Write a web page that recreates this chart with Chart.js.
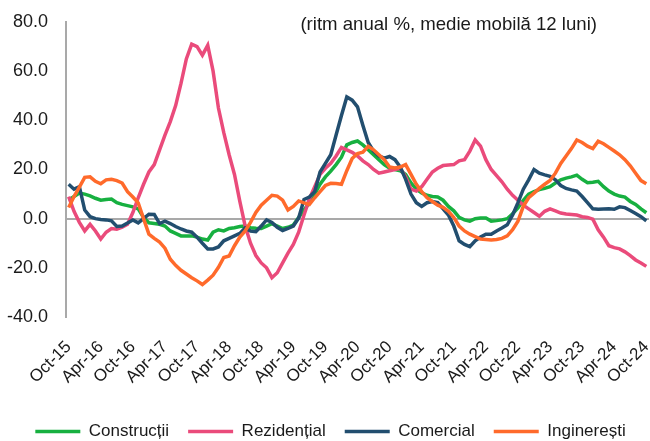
<!DOCTYPE html>
<html>
<head>
<meta charset="utf-8">
<script src="https://cdn.jsdelivr.net/npm/chart.js@4.4.1/dist/chart.umd.min.js"></script>
<style>
  html, body { margin: 0; padding: 0; background: #fff; }
  #wrap { width: 650px; height: 441px; }
</style>
</head>
<body>
<div id="wrap"><canvas id="chart"></canvas></div>
<script>
// monthly categories Oct-15 .. Oct-24
const monthAbbr = ['Jan', 'Feb', 'Mar', 'Apr', 'May', 'Jun', 'Jul', 'Aug', 'Sep', 'Oct', 'Nov', 'Dec'];
const firstMonth = 9, firstYear = 15, monthCount = 109;
const categories = [];
for (let k = 0; k < monthCount; k++) {
    const m = firstMonth + k;
    categories.push(monthAbbr[m % 12] + '-' + (firstYear + Math.floor(m / 12)));
}

const yTicks = [-40, -20, 0, 20, 40, 60, 80];
const noteText = '(ritm anual %, medie mobilă 12 luni)';

const constructii = [
    7.5, 9, 10.4, 10, 9.3, 8.3, 7.5, 7.8, 8, 6.5,
    5.8, 5.3, 4.8, 4, 0.5, -1.7, -2, -2.3, -3, -5,
    -6, -7, -7, -7, -7.5, -8.3, -8.7, -5.5, -4.5, -5,
    -4, -3.7, -3.2, -3, -3.7, -3.9, -4, -3, -2, -3,
    -4, -3.5, -2.6, 0.5, 3.5, 6.5, 10, 14, 17, 19.3,
    22, 25, 30, 31, 31.6, 30, 28, 26, 24, 22,
    20.6, 20, 19.5, 18, 14.5, 12, 10.5, 9.5, 9, 8.8,
    7.5, 5, 3.2, 0.5, -0.5, -1, 0, 0.3, 0.3, -1,
    -0.8, -0.5, 0, 2, 4.4, 7.5, 10, 11, 11.8, 12.3,
    13, 14.5, 15.8, 16.5, 17, 17.7, 16, 14.6, 14.8, 15.2,
    13, 11.2, 10, 9.2, 8.8, 7, 5.8, 4, 2.4
];
const rezidential = [
    9, 3, -1.5, -5, -2.3, -5, -8.3, -5.5, -4, -4.3,
    -3.5, -2.3, 2.5, 8.5, 14, 19, 22, 28, 34, 39.5,
    46, 55, 65, 71, 70, 66.5, 70.5, 60, 45, 35,
    26, 18, 7, -3, -10, -15, -18, -20, -24, -22,
    -18, -14, -10.5, -5.5, 1.5, 8, 13, 18, 20.5, 22.5,
    25.5, 29, 28, 27, 25.5, 23.5, 22, 20, 18.5, 19,
    19.5, 20, 20.5, 17, 12, 11.2, 13, 16, 19, 20.5,
    21.6, 21.8, 22, 23.5, 24, 27.5, 32, 29.5, 24, 20,
    17.5, 15, 12, 9.5, 7.5, 5.5, 4, 2.5, 1, 3,
    4, 3.2, 2.3, 1.9, 1.7, 1.5, 0.8, 0.5, -0.2, -4.5,
    -7.5, -11, -11.8, -12.3, -13.5, -15, -16.8, -18, -19.4
];
const comercial = [
    14, 12, 13, 3.5, 0.8, 0, -0.3, -0.5, -0.9, -3.2,
    -3, -1.8, -0.5, -1.7, 0, 1.8, 1.7, -2, -1, -2,
    -3.2, -4.2, -5, -5.5, -7.5, -10, -12.3, -12.3, -11.5, -9,
    -8, -7, -6, -3.8, -5, -5.3, -3, -0.5, -1.5, -3.5,
    -4.8, -4, -3, 0.3, 7.8, 8.8, 11, 19, 22.5, 26,
    34, 42, 49.5, 48.2, 45.5, 38, 31, 27.5, 25.5, 24.6,
    25.3, 24, 21, 16, 10, 6.5, 5, 6.5, 7, 6.5,
    4, 1.5, -3, -9, -10.5, -11.4, -9, -7.5, -6.3, -6.3,
    -5, -3.8, -2.5, 1.5, 6.5, 12, 15.8, 20, 18.5, 17.8,
    17.2, 15.8, 13.5, 12.3, 11.7, 11.2, 9, 6.5, 4, 3.8,
    3.9, 4, 3.8, 4.8, 4.5, 3.3, 2.1, 0.8, -0.9
];
const inginerești = [
    4.5, 9, 12.8, 16.8, 17, 15.2, 14.2, 15.8, 16, 15.5,
    14.5, 11, 8.8, 6.4, 0, -6.3, -8, -9.5, -12, -16.5,
    -19, -21, -22.5, -24, -25.3, -26.8, -25, -23, -19.8, -15.8,
    -15.2, -11, -7.5, -5, -1.5, 2.5, 5.5, 7.5, 9.5, 9.2,
    7.5, 3.5, 5, 7.2, 6.4, 5.8, 8.5, 11, 13.5, 14.4,
    14.3, 14, 19.5, 24.5, 26.5, 27, 29.4, 28, 26, 24,
    21, 20.6, 21, 22, 18, 14, 11, 8.5, 7, 5.5,
    4.6, 3, 0.5, -3, -5, -6.3, -7.3, -8.3, -8.5, -8.7,
    -8.5, -8, -7, -4.5, -1, 5, 8.5, 10.4, 12.3, 14,
    15.5, 18.5, 22.5, 25.5, 28.5, 32, 31, 29.5, 28.5, 31.5,
    30.5, 29, 27.5, 26, 24, 21.5, 18.5, 15.5, 14.2
];

const seriesNames = ['Construcții', 'Rezidențial', 'Comercial', 'Inginerești'];
const seriesColors = ['#17b040', '#ea4b7b', '#224e6f', '#ff6a2b'];
const seriesData = [constructii, rezidential, comercial, inginerești];

const fontFamily = '"Liberation Sans", Arial, sans-serif';
const textColor = '#1a1a1a';
const axisGray = '#a9a9a9';

// note in the top right corner of the plot
const notePlugin = {
    id: 'note',
    afterDraw(chart) {
        const { ctx, chartArea } = chart;
        ctx.save();
        ctx.font = '18.6px ' + fontFamily;
        ctx.fillStyle = textColor;
        ctx.textAlign = 'right';
        ctx.textBaseline = 'middle';
        ctx.fillText(noteText, chartArea.right - 52, 25);
        ctx.restore();
    }
};

// nudge the legend a little
const legendShift = {
    id: 'legendShift',
    afterLayout(chart) {
        const lg = chart.legend;
        if (lg) {
            lg.top += 9; lg.bottom += 9;
            lg.left += 6; lg.right += 6;
        }
    }
};

const datasets = seriesNames.map(function (name, i) {
    return {
        label: name,
        data: seriesData[i],
        borderColor: seriesColors[i],
        backgroundColor: seriesColors[i],
        borderWidth: 3.5,
        pointRadius: 0,
        tension: 0,
        order: seriesNames.length - i
    };
});

new Chart(document.getElementById('chart'), {
    type: 'line',
    data: { labels: categories, datasets: datasets },
    plugins: [notePlugin, legendShift],
    options: {
        responsive: true,
        maintainAspectRatio: false,
        animation: false,
        layout: { padding: { top: 22, right: 1, left: 0, bottom: 0 } },
        plugins: {
            tooltip: { enabled: false },
            legend: {
                position: 'bottom',
                labels: {
                    usePointStyle: true,
                    pointStyle: 'line',
                    pointStyleWidth: 45,
                    boxWidth: 45,
                    padding: 19,
                    color: textColor,
                    font: { size: 17, family: fontFamily },
                    sort: (a, b) => a.datasetIndex - b.datasetIndex
                }
            }
        },
        scales: {
            x: {
                offset: true,
                grid: { display: false },
                border: { display: false },
                ticks: {
                    autoSkip: false,
                    minRotation: 45,
                    maxRotation: 45,
                    padding: 12,
                    color: textColor,
                    font: { size: 17, family: fontFamily },
                    callback: (v, i) => (i % 6 === 0 ? categories[i] : '')
                },
                afterFit: s => { s.height = 78; s.paddingLeft = 0; s.paddingRight = 0; }
            },
            y: {
                min: yTicks[0],
                max: yTicks[yTicks.length - 1],
                afterBuildTicks: s => { s.ticks = yTicks.map(v => ({ value: v })); },
                ticks: {
                    padding: 18,
                    color: textColor,
                    font: { size: 18, family: fontFamily },
                    callback: v => v.toFixed(1)
                },
                grid: {
                    drawTicks: false,
                    lineWidth: 2,
                    color: c => (c.tick && c.tick.value === 0 ? axisGray : 'rgba(0,0,0,0)')
                },
                border: { display: true, color: axisGray, width: 2 },
                afterFit: s => { s.width = 66; s.paddingTop = 0; s.paddingBottom = 0; }
            }
        }
    }
});
</script>
</body>
</html>
